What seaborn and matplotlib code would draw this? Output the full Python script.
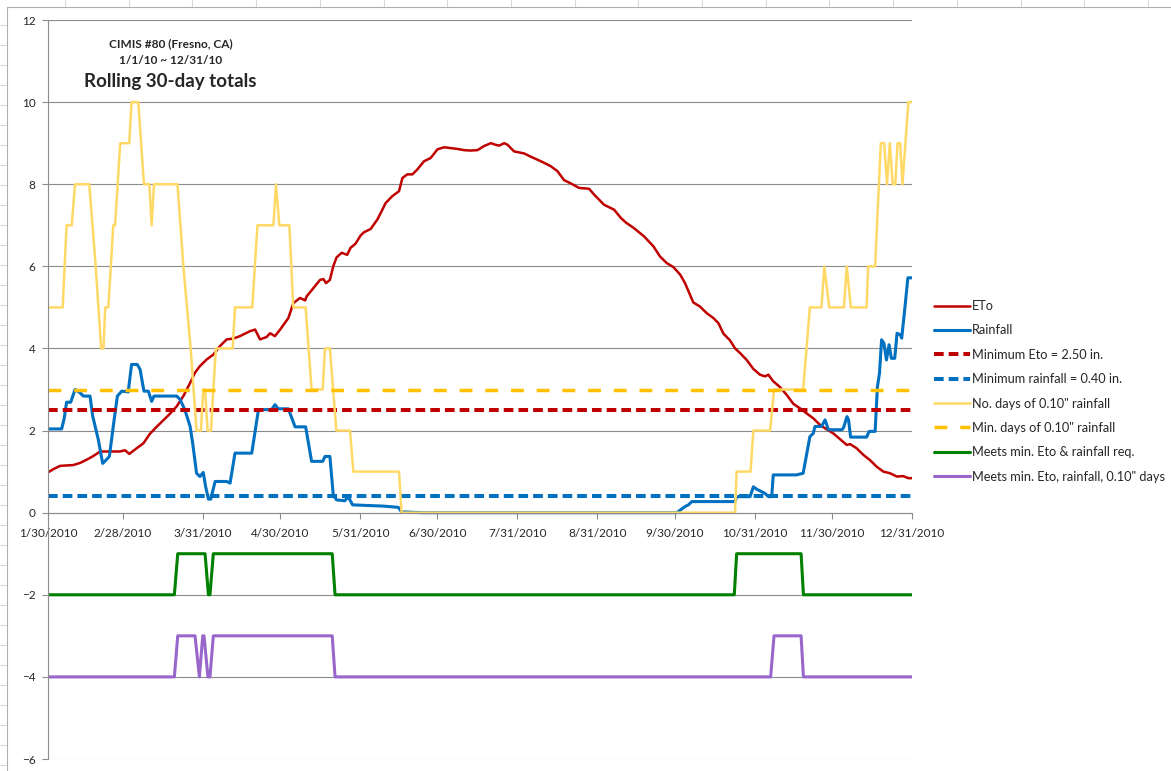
import pandas as pd
import matplotlib
matplotlib.use("Agg")
import matplotlib.pyplot as plt
from matplotlib.lines import Line2D
import seaborn as sns

# Rolling 30-day totals, CIMIS #80 Fresno. Days counted from 1/30/2010
start = pd.Timestamp("2010-01-30")
end_day = 335

eto_day = [0, 2.1, 4.7, 9.8, 12.4, 15.0, 17.6, 20.2, 27.9, 29.9, 31.5, 34.4, 37.0, 39.5, 42.1,
           44.7, 47.3, 49.9, 52.5, 55.1, 57.0, 58.9, 61.5, 64.1, 66.7, 69.3, 71.9, 74.4, 78.3,
           80.3, 82.2, 84.8, 86.1, 88.0, 90.0, 93.2, 95.1, 97.7, 99.7, 100.3, 102.9, 105.5,
           106.8, 107.8, 109.3, 110.6, 111.9, 113.9, 116.0, 117.3, 119.2, 121.2, 122.5, 125.1,
           127.7, 129.0, 130.9, 133.5, 136.1, 137.4, 139.3, 141.3, 143.2, 145.8, 148.4, 151.0,
           153.6, 156.1, 158.7, 161.3, 163.9, 166.5, 169.1, 171.7, 173.6, 174.9, 176.9, 178.2,
           180.7, 184.6, 187.2, 191.1, 194.9, 197.5, 200.1, 202.7, 205.9, 209.8, 211.7, 215.6,
           219.5, 222.1, 224.0, 227.2, 231.1, 234.7, 237.3, 239.9, 242.5, 245.1, 247.0, 248.9,
           250.2, 252.8, 255.4, 258.0, 259.9, 261.9, 264.4, 266.4, 268.3, 270.9, 273.5, 276.1,
           278.0, 279.3, 281.2, 283.8, 286.4, 289.0, 291.6, 294.1, 296.7, 299.3, 301.9, 304.5,
           307.1, 309.7, 311.0, 313.5, 316.1, 318.7, 321.3, 323.9, 326.5, 329.1, 331.6, 333.6, 335]
eto_val = [0.98, 1.06, 1.14, 1.16, 1.21, 1.29, 1.38, 1.49, 1.49, 1.52, 1.43, 1.57, 1.69, 1.92, 2.09,
           2.25, 2.41, 2.59, 2.84, 3.16, 3.41, 3.57, 3.73, 3.85, 4.06, 4.22, 4.24, 4.30, 4.42,
           4.46, 4.22, 4.28, 4.37, 4.30, 4.46, 4.74, 5.10, 5.23, 5.17, 5.27, 5.47, 5.67,
           5.69, 5.59, 5.67, 6.00, 6.22, 6.33, 6.28, 6.45, 6.55, 6.75, 6.83, 6.91,
           7.14, 7.30, 7.54, 7.71, 7.83, 8.15, 8.24, 8.24, 8.36, 8.56, 8.64, 8.85,
           8.90, 8.88, 8.86, 8.83, 8.82, 8.83, 8.93, 9.00, 8.96, 8.94, 9.00, 8.96,
           8.80, 8.75, 8.67, 8.56, 8.44, 8.32, 8.10, 8.02, 7.91, 7.89, 7.75, 7.50,
           7.38, 7.18, 7.07, 6.93, 6.73, 6.49, 6.24, 6.08, 5.98, 5.80, 5.59, 5.31,
           5.12, 5.02, 4.86, 4.74, 4.62, 4.36, 4.20, 4.00, 3.89, 3.72, 3.50, 3.36,
           3.32, 3.36, 3.20, 3.06, 2.87, 2.65, 2.54, 2.42, 2.30, 2.14, 2.03, 1.93,
           1.79, 1.65, 1.67, 1.57, 1.41, 1.28, 1.12, 1.00, 0.96, 0.88, 0.89, 0.84, 0.84]

rain_day = [0, 5.3, 6.3, 7.2, 8.8, 10.5, 12.4, 13.7, 16.3, 17.3, 19.5, 21.2, 22.5, 23.8, 25.3,
            26.9, 28.6, 31.1, 32.4, 34.6, 35.7, 37.2, 38.9, 40.2, 41.1, 49.9, 51.2, 53.1, 55.1,
            56.1, 57.6, 58.9, 60.2, 61.1, 62.2, 63.1, 64.8, 69.3, 70.6, 72.5, 79.0, 81.6, 86.7,
            88.0, 89.3, 93.2, 95.8, 99.9, 102.2, 106.5, 107.4, 109.3, 110.6, 111.9, 115.1, 116.4,
            118.1, 130.0, 135.8, 137.1, 144.9, 243.8, 247.0, 248.3, 249.6, 266.4, 267.0, 272.2,
            273.5, 274.8, 278.0, 279.3, 280.6, 281.2, 290.2, 292.8, 295.4, 296.7, 297.4, 299.9,
            301.3, 302.6, 307.8, 308.4, 309.8, 310.4, 311.2, 317.4, 318.4, 320.7, 321.6, 322.4,
            323.2, 324.1, 325.1, 326.1, 327.0, 328.3, 329.2, 330.5, 331.0, 332.1, 333.4, 335]
rain_val = [2.04, 2.04, 2.30, 2.69, 2.69, 3.00, 2.92, 2.84, 2.84, 2.36, 1.78, 1.20, 1.28, 1.37, 2.10,
            2.84, 2.96, 2.94, 3.61, 3.61, 3.49, 2.96, 2.96, 2.71, 2.84, 2.84, 2.76, 2.50, 2.10,
            1.69, 0.96, 0.88, 0.98, 0.64, 0.33, 0.33, 0.76, 0.76, 0.72, 1.45, 1.45, 2.51, 2.51,
            2.63, 2.53, 2.53, 2.09, 2.09, 1.25, 1.25, 1.37, 1.37, 0.43, 0.31, 0.29, 0.39,
            0.19, 0.16, 0.13, 0.02, 0.00, 0.00, 0.15, 0.19, 0.27, 0.27, 0.39, 0.39,
            0.63, 0.57, 0.47, 0.39, 0.39, 0.92, 0.92, 0.96, 1.85, 1.93, 2.10, 2.10,
            2.26, 2.02, 2.02, 2.06, 2.34, 2.26, 1.84, 1.84, 1.98, 1.98, 3.07, 3.40,
            4.21, 4.13, 3.72, 4.09, 3.76, 3.76, 4.37, 4.33, 4.25, 4.90, 5.72, 5.72]

days_day = [0, 5.7, 7.2, 9.2, 10.5, 16.0, 18.5, 20.6, 21.5, 22.2, 23.4, 25.3, 26.0, 28.0, 31.5,
            32.4, 35.0, 37.2, 39.3, 40.2, 41.1, 50.2, 52.5, 55.3, 57.6, 59.3, 60.2, 60.9, 61.9,
            63.2, 64.1, 65.1, 71.6, 72.5, 79.2, 81.2, 87.4, 88.4, 89.7, 93.6, 95.1, 99.9, 102.2,
            106.5, 107.4, 109.3, 111.8, 117.1, 118.4, 136.1, 137.1, 266.4, 267.0, 272.4, 273.5,
            280.0, 281.5, 292.8, 295.4, 299.9, 301.0, 302.9, 308.6, 309.7, 311.3, 317.4, 318.0,
            320.7, 322.9, 324.2, 325.3, 326.4, 327.5, 328.5, 329.4, 330.4, 331.3, 333.6, 335]
days_val = [5, 5, 7, 7, 8, 8, 6, 4, 4, 5, 5, 7, 7, 9, 9,
            10, 10, 8, 8, 7, 8, 8, 6, 4, 2, 2, 3, 3, 2,
            2, 3, 4, 4, 5, 5, 7, 7, 8, 7, 7, 5, 5, 3,
            3, 4, 4, 2, 2, 1, 1, 0, 0, 1, 1, 2,
            2, 3, 3, 5, 5, 6, 5, 5, 6, 5, 5, 6,
            6, 9, 9, 8, 9, 8, 8, 9, 9, 8, 10, 10]

meet_day = [0, 49.0, 50.3, 60.9, 62.2, 62.8, 64.1, 110.2, 111.3, 266.1, 267.0, 292.0, 292.9, 335]
meet_val = [-2, -2, -1, -1, -2, -2, -1, -1, -2, -2, -1, -1, -2, -2]

meet3_day = [0, 49.0, 50.3, 57.0, 58.7, 60.0, 60.5, 62.0, 62.8, 64.1, 110.2, 111.3,
             280.2, 281.5, 292.0, 292.9, 335]
meet3_val = [-4, -4, -3, -3, -4, -3, -3, -4, -4, -3, -3, -4, -4, -3, -3, -4, -4]

min_eto = 2.5
min_rain = 0.4
min_days = 3

tick_labels = ["1/30/2010", "2/28/2010", "3/31/2010", "4/30/2010", "5/31/2010", "6/30/2010",
               "7/31/2010", "8/31/2010", "9/30/2010", "10/31/2010", "11/30/2010", "12/31/2010"]


def to_dates(days):
    return start + pd.to_timedelta(pd.Series(days, dtype=float), unit="D")


series = [
    ("ETo", eto_day, eto_val, "#C00000", 1.8, "-"),
    ("Rainfall", rain_day, rain_val, "#0070C0", 2.2, "-"),
    ("Minimum Eto = 2.50 in.", [0, end_day], [min_eto, min_eto], "#C00000", 2.9, (0, (2.4, 1.25))),
    ("Minimum rainfall = 0.40 in.", [0, end_day], [min_rain, min_rain], "#0070C0", 2.9, (0, (2.4, 1.25))),
    ('No. days of 0.10" rainfall', days_day, days_val, "#FFD966", 1.8, "-"),
    ('Min. days of 0.10" rainfall', [0, end_day], [min_days, min_days], "#FFC000", 2.5, (0, (3.7, 3.7))),
    ("Meets min. Eto & rainfall req.", meet_day, meet_val, "#008000", 2.2, "-"),
    ('Meets min. Eto, rainfall, 0.10" days', meet3_day, meet3_val, "#9966CC", 2.2, "-"),
]

sns.set_theme(style="white")
plt.rcParams["font.family"] = ["Lato", "DejaVu Sans"]

W, H = 1171, 771
fig = plt.figure(figsize=(W / 100, H / 100), dpi=100)
ax = fig.add_axes([48 / W, 1 - 759 / H, (912 - 48) / W, (759 - 20) / H])

for name, d, v, color, lw, ls in series:
    sns.lineplot(x=to_dates(d), y=v, ax=ax, color=color, linewidth=lw, linestyle=ls,
                 label=name, estimator=None, sort=False, legend=False)

grid_c = "#8c8c8c"
ax.set_ylim(-6, 12)
ax.set_yticks(range(-6, 13, 2))
ax.set_xlim(start, start + pd.Timedelta(days=end_day))
ax.yaxis.grid(True, color=grid_c, linewidth=0.8)
ax.xaxis.grid(False)
ax.set_axisbelow(True)

tick_dates = pd.to_datetime(tick_labels, format="%m/%d/%Y")
ax.set_xticks(tick_dates)
ax.set_xticklabels(tick_labels)
ax.set_xlabel("")
ax.set_ylabel("")

for s in ["top", "right"]:
    ax.spines[s].set_visible(False)
ax.spines["bottom"].set_position(("data", 0))
ax.spines["bottom"].set_color(grid_c)
ax.spines["left"].set_color(grid_c)
ax.spines["bottom"].set_linewidth(0.8)
ax.spines["left"].set_linewidth(0.8)
ax.tick_params(axis="x", direction="out", length=4, width=0.8, color=grid_c,
               labelsize=8.5, pad=7, bottom=True)
ax.tick_params(axis="y", direction="out", length=4, width=0.8, color=grid_c,
               labelsize=8.5, pad=5, left=True)

# chart headings
fig.text(171 / W, 1 - 44 / H, "CIMIS #80 (Fresno, CA)", ha="center", va="center",
         fontsize=8.6, fontweight="bold")
fig.text(171 / W, 1 - 60 / H, "1/1/10 ~ 12/31/10", ha="center", va="center",
         fontsize=8.6, fontweight="bold")
fig.text(170 / W, 1 - 81 / H, "Rolling 30-day totals", ha="center", va="center",
         fontsize=13.5, fontweight="bold")

ax.legend(loc="upper left", bbox_to_anchor=(934 / W, 1 - 300 / H), bbox_transform=fig.transFigure,
          frameon=False, fontsize=9.2, handlelength=2.8, handletextpad=0.2,
          labelspacing=0.97, borderpad=0, borderaxespad=0)

# spreadsheet cells behind the chart
sheet_c = "#d9d9d9"
for i in range(18):
    xc = (65 + i * 63.7) / W
    fig.add_artist(Line2D([xc, xc], [1, 1 - 7 / H], transform=fig.transFigure, color=sheet_c, lw=0.8))
for i in range(38):
    yc = 1 - (25 + i * 20) / H
    fig.add_artist(Line2D([0, 7 / W], [yc, yc], transform=fig.transFigure, color=sheet_c, lw=0.8))
fig.add_artist(Line2D([7 / W, 1], [1 - 7 / H, 1 - 7 / H], transform=fig.transFigure, color="#b0b0b0", lw=0.8))
fig.add_artist(Line2D([7 / W, 7 / W], [0, 1 - 7 / H], transform=fig.transFigure, color="#b0b0b0", lw=0.8))

fig.savefig("out.png", dpi=100)
